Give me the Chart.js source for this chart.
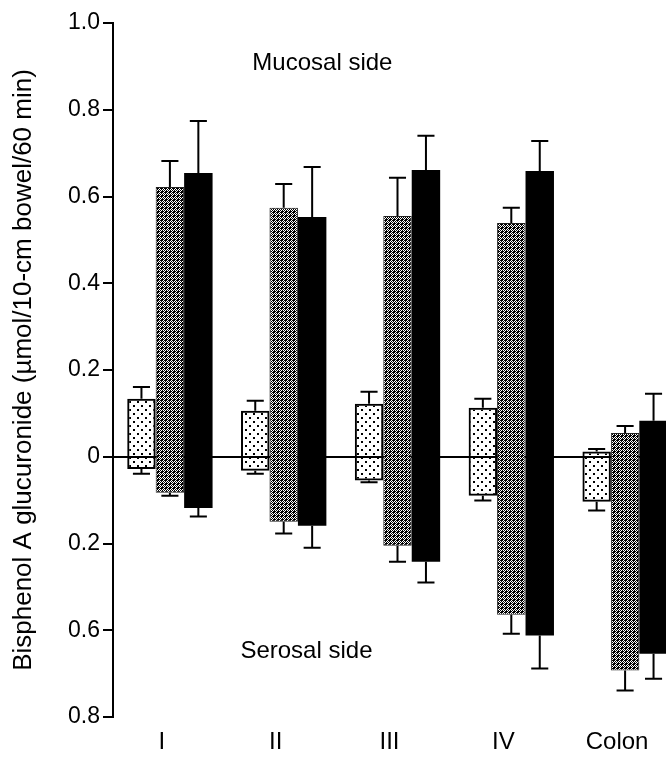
<!DOCTYPE html>
<html>
<head>
<meta charset="utf-8">
<script src="https://cdn.jsdelivr.net/npm/chart.js@4.4.0/dist/chart.umd.min.js"></script>
<style>
html, body { margin: 0; padding: 0; background: #fff; overflow: hidden; }
#wrap { width: 692px; height: 758px; }
</style>
</head>
<body>
<div id="wrap"><canvas id="myChart" width="692" height="758"></canvas></div>
<script>
const segments = ['I', 'II', 'III', 'IV', 'Colon'];

// mucosal side (upwards from 0)
const mucosalLight = [0.134, 0.106, 0.122, 0.113, 0.012];
const mucosalLightErr = [0.027, 0.023, 0.028, 0.021, 0.006];
const mucosalGray = [0.622, 0.574, 0.555, 0.539, 0.055];
const mucosalGrayErr = [0.060, 0.055, 0.088, 0.035, 0.016];
const mucosalBlack = [0.654, 0.553, 0.661, 0.659, 0.083];
const mucosalBlackErr = [0.120, 0.115, 0.079, 0.069, 0.062];

// serosal side (downwards from 0, axis units)
const serosalLight = [0.028, 0.032, 0.055, 0.090, 0.104];
const serosalLightErr = [0.011, 0.007, 0.004, 0.011, 0.020];
const serosalGray = [0.083, 0.150, 0.205, 0.364, 0.493];
const serosalGrayErr = [0.007, 0.027, 0.037, 0.044, 0.046];
const serosalBlack = [0.118, 0.159, 0.242, 0.412, 0.454];
const serosalBlackErr = [0.020, 0.051, 0.048, 0.076, 0.058];

// axis ticks as printed (the lower half is labelled 0.2 / 0.6 / 0.8)
const tickValues = [-0.6, -0.4, -0.2, 0, 0.2, 0.4, 0.6, 0.8, 1.0];
const tickLabels = ['0.8', '0.6', '0.2', '0', '0.2', '0.4', '0.6', '0.8', '1.0'];

const fontFamily = '"Liberation Sans", Arial, Helvetica, sans-serif';

function dotPattern() {
    const c = document.createElement('canvas');
    c.width = 8; c.height = 8;
    const g = c.getContext('2d');
    g.fillStyle = '#000';
    g.fillRect(1, 1, 2, 2);
    g.fillRect(5, 5, 2, 2);
    return g.createPattern(c, 'repeat');
}

function grainPattern() {
    const c = document.createElement('canvas');
    c.width = 4; c.height = 4;
    const g = c.getContext('2d');
    g.fillStyle = '#fff';
    g.fillRect(0, 0, 4, 4);
    g.fillStyle = '#000';
    const dark = [[0,0],[2,0],[1,1],[3,1],[0,2],[2,2],[1,3],[3,3],[1,0],[2,3]];
    dark.forEach(p => g.fillRect(p[0], p[1], 1, 1));
    return g.createPattern(c, 'repeat');
}

function floating(up, down) {
    return up.map((v, i) => [-down[i], v]);
}

const errorBars = {
    id: 'errorBars',
    afterDatasetsDraw(chart) {
        const ctx = chart.ctx;
        const y = chart.scales.y;
        ctx.save();
        ctx.strokeStyle = '#000';
        ctx.lineWidth = 2;
        chart.data.datasets.forEach((ds, i) => {
            chart.getDatasetMeta(i).data.forEach((bar, j) => {
                const half = bar.width * 0.3;
                const yTop = y.getPixelForValue(ds.data[j][1]);
                const yTopErr = y.getPixelForValue(ds.data[j][1] + ds.upErr[j]);
                const yBot = y.getPixelForValue(ds.data[j][0]);
                const yBotErr = y.getPixelForValue(ds.data[j][0] - ds.downErr[j]);
                ctx.beginPath();
                ctx.moveTo(bar.x, yTop); ctx.lineTo(bar.x, yTopErr);
                ctx.moveTo(bar.x - half, yTopErr); ctx.lineTo(bar.x + half, yTopErr);
                ctx.moveTo(bar.x, yBot); ctx.lineTo(bar.x, yBotErr);
                ctx.moveTo(bar.x - half, yBotErr); ctx.lineTo(bar.x + half, yBotErr);
                ctx.stroke();
            });
        });
        ctx.restore();
    }
};

// side captions, placed in axis units
const mucosalPos = [1.34, 0.908];
const serosalPos = [1.2, -0.448];

const sideLabels = {
    id: 'sideLabels',
    afterDraw(chart) {
        const {ctx, scales: {x, y}} = chart;
        ctx.save();
        ctx.font = '24px ' + fontFamily;
        ctx.fillStyle = '#000';
        ctx.textAlign = 'center';
        ctx.textBaseline = 'middle';
        ctx.fillText('Mucosal side', x.getPixelForValue(mucosalPos[0]), y.getPixelForValue(mucosalPos[1]));
        ctx.fillText('Serosal side', x.getPixelForValue(serosalPos[0]), y.getPixelForValue(serosalPos[1]));
        ctx.restore();
    }
};

const ctx = document.getElementById('myChart').getContext('2d');

new Chart(ctx, {
    type: 'bar',
    data: {
        labels: segments,
        datasets: [{
            data: floating(mucosalLight, serosalLight),
            upErr: mucosalLightErr,
            downErr: serosalLightErr,
            backgroundColor: dotPattern(),
            borderColor: '#000',
            borderWidth: 2,
            borderSkipped: false
        }, {
            data: floating(mucosalGray, serosalGray),
            upErr: mucosalGrayErr,
            downErr: serosalGrayErr,
            backgroundColor: grainPattern(),
            borderColor: '#222',
            borderWidth: 1,
            borderSkipped: false
        }, {
            data: floating(mucosalBlack, serosalBlack),
            upErr: mucosalBlackErr,
            downErr: serosalBlackErr,
            backgroundColor: '#000',
            borderWidth: 0
        }]
    },
    options: {
        responsive: false,
        animation: false,
        layout: { padding: { top: 23, right: 10, left: 0, bottom: 0 } },
        datasets: { bar: { categoryPercentage: 0.75, barPercentage: 1 } },
        plugins: {
            legend: { display: false },
            tooltip: { enabled: false }
        },
        scales: {
            x: {
                offset: true,
                afterFit: (s) => { s.height = 41; },
                border: { display: false },
                grid: { display: false, drawTicks: false },
                ticks: {
                    color: '#000',
                    font: { family: fontFamily, size: 24 },
                    padding: 11,
                    labelOffset: -8,
                    maxRotation: 0,
                    autoSkip: false
                }
            },
            y: {
                min: -0.6,
                max: 1.0,
                afterBuildTicks: (s) => { s.ticks = tickValues.map(v => ({ value: v })); },
                afterFit: (s) => { s.width = 113; },
                border: { display: true, color: '#000', width: 2 },
                grid: {
                    color: (c) => (c.tick && c.tick.value === 0) ? '#000' : 'rgba(0,0,0,0)',
                    lineWidth: 2,
                    tickColor: '#000',
                    tickLength: 10
                },
                ticks: {
                    color: '#000',
                    font: { family: fontFamily, size: 23 },
                    padding: 3,
                    callback: (v, i) => tickLabels[i]
                },
                title: {
                    display: true,
                    text: 'Bisphenol A glucuronide (µmol/10-cm bowel/60 min)',
                    color: '#000',
                    font: { family: fontFamily, size: 26 },
                    padding: { top: 8, bottom: 0 }
                }
            }
        }
    },
    plugins: [errorBars, sideLabels]
});
</script>
</body>
</html>
